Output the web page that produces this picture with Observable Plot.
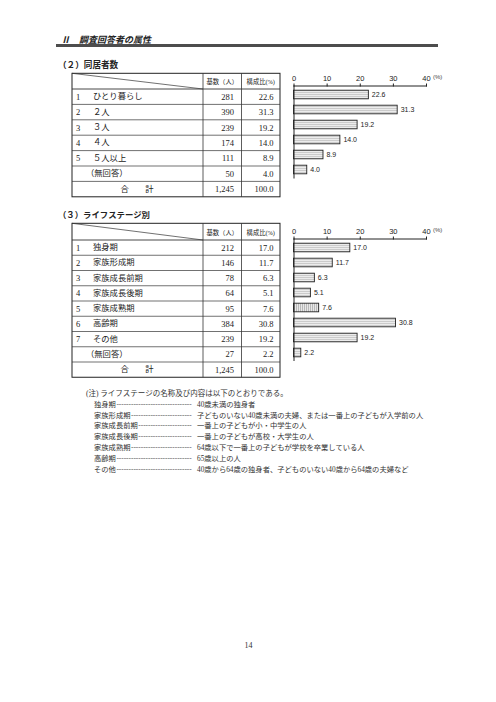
<!DOCTYPE html>
<html><head><meta charset="utf-8">
<script src="https://cdn.jsdelivr.net/npm/d3@7"></script>
<script src="https://cdn.jsdelivr.net/npm/@observablehq/plot@0.6"></script>
<style>
body{margin:0;background:#fff;}
#page{position:relative;width:496px;height:702px;overflow:hidden;background:#fff;font-family:"Noto Sans CJK JP",sans-serif;color:#222;}
.abs{position:absolute;white-space:nowrap;}
</style></head>
<body><div id="page"></div>
<script>
// ---- data ----
const pageHeader = "Ⅱ　調査回答者の属性";
const title2 = "（２）同居者数";
const title3 = "（３）ライフステージ別";
const colHeaders = ["基数（人）", "構成比(%)"];
const totalLabel = "合　　計";

const householdNums = ["1", "2", "3", "4", "5", ""];
const householdCats = ["ひとり暮らし", "２人", "３人", "４人", "５人以上", "（無回答）"];
const householdCounts = [281, 390, 239, 174, 111, 50];
const householdPct = [22.6, 31.3, 19.2, 14.0, 8.9, 4.0];
const householdTotal = ["1,245", "100.0"];

const lifeNums = ["1", "2", "3", "4", "5", "6", "7", ""];
const lifeCats = ["独身期", "家族形成期", "家族成長前期", "家族成長後期", "家族成熟期", "高齢期", "その他", "（無回答）"];
const lifeCounts = [212, 146, 78, 64, 95, 384, 239, 27];
const lifePct = [17.0, 11.7, 6.3, 5.1, 7.6, 30.8, 19.2, 2.2];
const lifeTotal = ["1,245", "100.0"];

const tickValues = [0, 10, 20, 30, 40];
const unitLabel = "(%)";

const noteTitle = "(注) ライフステージの名称及び内容は以下のとおりである。";
const noteNames = ["独身期", "家族形成期", "家族成長前期", "家族成長後期", "家族成熟期", "高齢期", "その他"];
const noteDescs = [
  "40歳未満の独身者",
  "子どものいない40歳未満の夫婦、または一番上の子どもが入学前の人",
  "一番上の子どもが小・中学生の人",
  "一番上の子どもが高校・大学生の人",
  "64歳以下で一番上の子どもが学校を卒業している人",
  "65歳以上の人",
  "40歳から64歳の独身者、子どものいない40歳から64歳の夫婦など"
];
const pageNumber = "14";

// ---- page ----
const page = document.getElementById("page");
function addText(txt, left, cy, size, extra = {}) {
  const d = document.createElement("div");
  d.className = "abs";
  d.textContent = txt;
  Object.assign(d.style, {left: left + "px", top: (cy - size * 0.7) + "px", fontSize: size + "px", lineHeight: (size * 1.4) + "px"}, extra);
  page.appendChild(d);
  return d;
}

addText(pageHeader, 61, 40, 9, {fontWeight: "bold", fontStyle: "italic"});
const rule = document.createElement("div");
rule.className = "abs";
Object.assign(rule.style, {left: "56px", top: "44px", width: "382px", height: "3px", background: "#4d4d4d"});
page.appendChild(rule);
addText(title2, 58, 64.5, 8.6, {fontWeight: "bold"});
addText(title3, 58, 215, 8.4, {fontWeight: "bold"});

// tables
const svgNS = d3.select(page).append("svg")
  .attr("width", 496).attr("height", 702)
  .style("position", "absolute").style("left", 0).style("top", 0);

function drawTable(g, {top, headerH, rowH, nums, cats, counts, pcts, total}) {
  const x0 = 72, x1 = 203, x2 = 241.5, x3 = 280;
  const n = cats.length + 1;
  const bottom = top + headerH + rowH * n;
  const ln = (a, b, c, d, w = 0.8) => g.append("line").attr("x1", a).attr("y1", b).attr("x2", c).attr("y2", d)
      .attr("stroke", "#333").attr("stroke-width", w);
  g.append("rect").attr("x", x0).attr("y", top).attr("width", x3 - x0).attr("height", bottom - top)
    .attr("fill", "none").attr("stroke", "#222").attr("stroke-width", 1);
  ln(x1, top, x1, bottom); ln(x2, top, x2, bottom);
  for (let i = 0; i < n; i++) { const y = top + headerH + rowH * i; ln(x0, y, x3, y, i === 0 ? 0.9 : 0.7); }
  ln(x0, top, x1, top + headerH, 0.7);
  const font = "'Liberation Serif','Noto Sans CJK JP',serif";
  const t = (txt, x, y, anchor, size) => g.append("text").attr("x", x).attr("y", y).attr("text-anchor", anchor)
      .attr("dominant-baseline", "central").attr("font-size", size).attr("font-family", font).attr("fill", "#222").text(txt);
  t(colHeaders[0], (x1 + x2) / 2, top + headerH / 2 + 0.5, "middle", 6.3);
  t(colHeaders[1], (x2 + x3) / 2, top + headerH / 2 + 0.5, "middle", 6.3);
  cats.forEach((c, i) => {
    const cy = top + headerH + rowH * i + rowH / 2;
    if (nums[i]) { t(nums[i], 76, cy, "start", 8.5); t(c, 93, cy, "start", 8.3); }
    else t(c, 86, cy, "start", 8.3);
    t(String(counts[i]), 234, cy, "end", 8.5);
    t(pcts[i].toFixed(1), 273.5, cy, "end", 8.5);
  });
  const cy = top + headerH + rowH * cats.length + rowH / 2;
  t(totalLabel, 137, cy, "middle", 8.3);
  t(total[0], 234, cy, "end", 8.5);
  t(total[1], 273.5, cy, "end", 8.5);
}
drawTable(svgNS.append("g"), {top: 73.3, headerH: 15.7, rowH: 15.4, nums: householdNums, cats: householdCats, counts: householdCounts, pcts: householdPct, total: householdTotal});
drawTable(svgNS.append("g"), {top: 223.3, headerH: 16.7, rowH: 15.25, nums: lifeNums, cats: lifeCats, counts: lifeCounts, pcts: lifePct, total: lifeTotal});

// charts
function chart(cats, pcts, {left, top, height, marginTop, marginBottom, id, vertIdx}) {
  const data = cats.map((c, i) => ({i, c, v: pcts[i]}));
  const svg = Plot.plot({
    width: 165, height, marginLeft: 13.5, marginRight: 19, marginTop, marginBottom,
    style: {fontFamily: "'Liberation Sans',Arial,sans-serif", fontSize: "7.5px", color: "#222", background: "transparent", overflow: "visible"},
    x: {domain: [0, 40], axis: "top", ticks: tickValues, tickSize: 3, tickPadding: 2, line: true, label: null, tickFormat: d => String(d)},
    y: {domain: d3.range(cats.length), axis: null, padding: 0},
    marks: [
      Plot.barX(data, {x: "v", y: "i", fill: "#e6e6e6", stroke: "#222", strokeWidth: 0.9, insetTop: 3.2, insetBottom: 3.2}),
      Plot.ruleX([0], {stroke: "#222", strokeWidth: 1}),
      Plot.text(data, {x: "v", y: "i", text: d => d.v.toFixed(1), dx: 3, textAnchor: "start", fontSize: 7, fill: "#222"})
    ]
  });
  Object.assign(svg.style, {position: "absolute", left: left + "px", top: top + "px"});
  const defs = d3.select(svg).insert("defs", ":first-child");
  const ph = defs.append("pattern").attr("id", id + "h").attr("patternUnits", "userSpaceOnUse").attr("width", 4).attr("height", 2);
  ph.append("rect").attr("width", 4).attr("height", 2).attr("fill", "#ececec");
  ph.append("rect").attr("width", 4).attr("height", 0.6).attr("fill", "#b5b5b5");
  const pv = defs.append("pattern").attr("id", id + "v").attr("patternUnits", "userSpaceOnUse").attr("width", 2).attr("height", 4);
  pv.append("rect").attr("width", 2).attr("height", 4).attr("fill", "#e8e8e8");
  pv.append("rect").attr("width", 0.6).attr("height", 4).attr("fill", "#9a9a9a");
  d3.select(svg).selectAll('g[aria-label="bar"] rect').attr("fill", (d, k) => k === vertIdx ? `url(#${id}v)` : `url(#${id}h)`);
  page.appendChild(svg);
}
chart(householdCats, householdPct, {left: 280, top: 60, height: 125, marginTop: 25.5, marginBottom: 6.5, id: "p1", vertIdx: -1});
chart(lifeCats, lifePct, {left: 280, top: 213, height: 150, marginTop: 25.5, marginBottom: 2, id: "p2", vertIdx: 4});
addText(unitLabel, 433, 77.5, 6, {fontFamily: "'Liberation Sans',Arial,sans-serif", color: "#444"});
addText(unitLabel, 433, 230.5, 6, {fontFamily: "'Liberation Sans',Arial,sans-serif", color: "#444"});

// notes
const noteFont = {fontFamily: "'Liberation Serif','Noto Sans CJK JP',serif", color: "#333"};
addText(noteTitle, 86, 394, 7.5, noteFont);
const dashEnd = 193;
noteNames.forEach((nm, i) => {
  const cy = 405 + 10.8 * i;
  const nameEl = addText(nm, 94, cy, 7.3, noteFont);
  const nameRight = 94 + nameEl.getBoundingClientRect().width;
  const probe = addText("-", 0, cy, 7.3, noteFont);
  const dw = probe.getBoundingClientRect().width;
  probe.remove();
  const count = Math.max(0, Math.floor((dashEnd - nameRight - 0.5) / dw));
  addText("-".repeat(count), nameRight + 0.5, cy, 7.3, Object.assign({}, noteFont, {color: "#666"}));
  addText(noteDescs[i], 197, cy, 7.3, noteFont);
});
addText(pageNumber, 244.5, 646, 8, {fontFamily: "'Liberation Serif',serif", color: "#333"});
</script></body></html>
